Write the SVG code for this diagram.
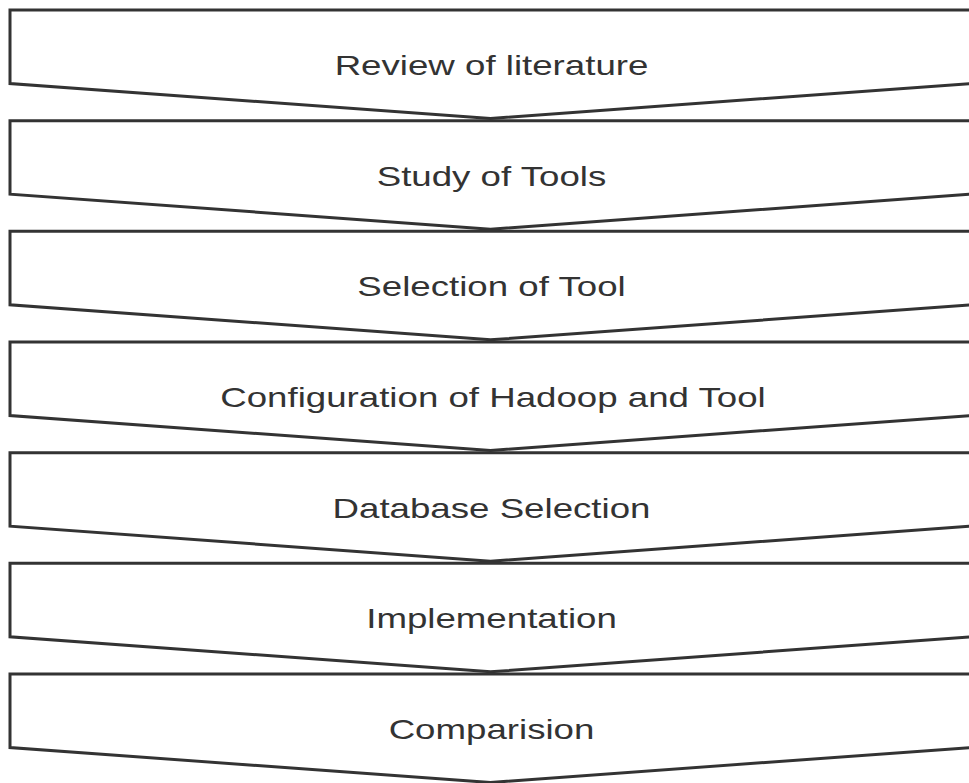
<svg xmlns="http://www.w3.org/2000/svg" width="969" height="783" viewBox="0 0 969 783">
<style>
.s{fill:#fff;stroke:#333;stroke-width:3;stroke-linejoin:miter}
.t{font-family:"Liberation Sans",Arial,sans-serif;font-size:28px;fill:#333;text-anchor:middle}
</style>
<defs>
<path id="chev" d="M10,0 L971,0 L971,73.5 L490.5,108.5 L10,73.5 Z"/>
</defs>
<rect width="969" height="783" fill="#fff"/>
<g id="connectors"></g>
<g id="n1" transform="translate(0,10)"><use href="#chev" class="s"/><text class="t" transform="translate(491.5,65) scale(1.31,1)">Review of literature</text></g>
<g id="n2" transform="translate(0,120.67)"><use href="#chev" class="s"/><text class="t" transform="translate(491.5,65) scale(1.31,1)">Study of Tools</text></g>
<g id="n3" transform="translate(0,231.33)"><use href="#chev" class="s"/><text class="t" transform="translate(491.5,65) scale(1.31,1)">Selection of Tool</text></g>
<g id="n4" transform="translate(0,342)"><use href="#chev" class="s"/><text class="t" transform="translate(493,65) scale(1.31,1)">Configuration of Hadoop and Tool</text></g>
<g id="n5" transform="translate(0,452.67)"><use href="#chev" class="s"/><text class="t" transform="translate(491.5,65) scale(1.31,1)">Database Selection</text></g>
<g id="n6" transform="translate(0,563.33)"><use href="#chev" class="s"/><text class="t" transform="translate(491.5,65) scale(1.31,1)">Implementation</text></g>
<g id="n7" transform="translate(0,674)"><use href="#chev" class="s"/><text class="t" transform="translate(491.5,65) scale(1.31,1)">Comparision</text></g>
</svg>
